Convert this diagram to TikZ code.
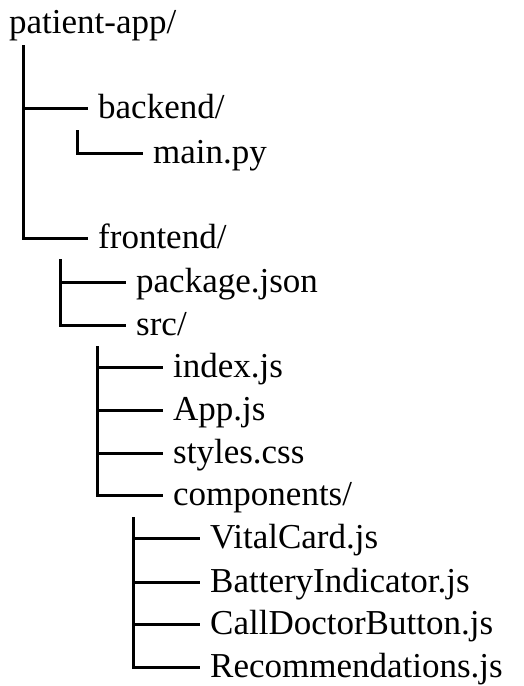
\documentclass[tikz,border=0pt]{standalone}
\usepackage{fontspec}
\setmainfont{Liberation Serif}
\begin{document}
\begin{tikzpicture}[x=1pt,y=-1pt,
  entry/.style={anchor=base west,inner sep=0pt,font=\fontsize{35}{40}\selectfont},
  branch/.style={line width=3pt,black}]
\useasboundingbox (0,0) rectangle (524,686);
% labels (x = text start, y = baseline)
\node[entry] (root) at (9,33) {patient-app/};
\node[entry] (backend) at (98,118) {backend/};
\node[entry] (mainpy) at (153,163) {main.py};
\node[entry] (frontend) at (98,248) {frontend/};
\node[entry] (pkg) at (136,292) {package.json};
\node[entry] (src) at (136,335) {src/};
\node[entry] (index) at (173,377) {index.js};
\node[entry] (app) at (173,420) {App.js};
\node[entry] (styles) at (173,463) {styles.css};
\node[entry] (comps) at (173,505) {components/};
\node[entry] (vital) at (210,548) {VitalCard.js};
\node[entry] (battery) at (210,592) {BatteryIndicator.js};
\node[entry] (call) at (210,634) {CallDoctorButton.js};
\node[entry] (recs) at (210,677) {Recommendations.js};
% tops of the vertical lines
\coordinate (rtop) at (23,45);
\coordinate (btop) at (77,130);
\coordinate (ftop) at (60,259);
\coordinate (stop) at (97,346);
\coordinate (ctop) at (133,517);
% connectors
\draw[branch] (rtop) |- ([xshift=-10pt,yshift=10pt]backend.base west);
\draw[branch] (rtop) |- ([xshift=-10pt,yshift=10pt]frontend.base west);
\draw[branch] (btop) |- ([xshift=-10pt,yshift=10pt]mainpy.base west);
\draw[branch] (ftop) |- ([xshift=-10pt,yshift=10pt]pkg.base west);
\draw[branch] (ftop) |- ([xshift=-10pt,yshift=10pt]src.base west);
\foreach \n in {index,app,styles,comps}
  \draw[branch] (stop) |- ([xshift=-10pt,yshift=10pt]\n.base west);
\foreach \n in {vital,battery,call,recs}
  \draw[branch] (ctop) |- ([xshift=-10pt,yshift=10pt]\n.base west);
\end{tikzpicture}
\end{document}
